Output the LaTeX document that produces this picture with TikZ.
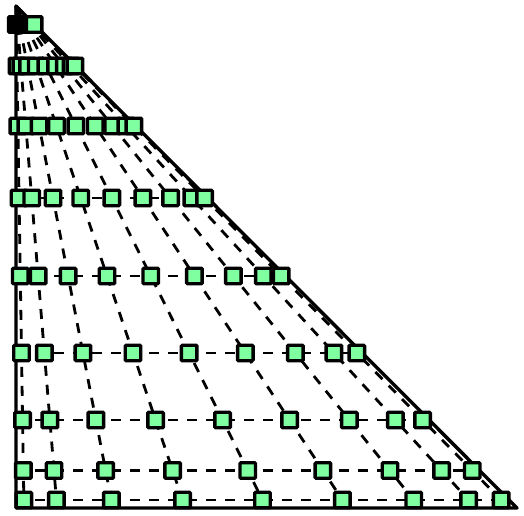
\documentclass[tikz,border=0pt]{standalone}
\definecolor{ptfill}{RGB}{128,255,160}
\begin{document}
\begin{tikzpicture}[x=1pt,y=-1pt,
  edge/.style={line width=3.4pt,line join=round},
  ray/.style={line width=2.8pt,dash pattern=on 10pt off 9pt},
  ptbox/.style={draw,line width=3.4pt,fill=ptfill,minimum size=15.5pt,inner sep=0pt,rectangle,rounded corners=1pt}]
\useasboundingbox (0,0) rectangle (524,515);
\coordinate (A) at (16,6);
\coordinate (B) at (16,508);
\coordinate (C) at (517,508);
\draw[edge] (A) -- (B) -- (C) -- cycle;
\foreach \g [count=\i] in {0.0159199,0.0819845,0.1933143,0.3378733,0.5,0.6621267,0.8066857,0.9180155,0.9840801}{
  \coordinate (b\i) at ({16+501*\g},508);
  \draw[ray] (A) -- (b\i);
}
\foreach \yy [count=\j] in {24.5,66,126,198,276,353,420,470.5,500}{
  \coordinate (l\j) at (16,\yy);
  \coordinate (r\j) at ({16+0.998008*(\yy-6)},\yy);
  \draw[ray] (l\j) -- (r\j);
}
\foreach \yy [count=\j] in {24.5,66,126,198,276,353,420,470.5,500}{
  \foreach \g [count=\i] in {0.0159199,0.0819845,0.1933143,0.3378733,0.5,0.6621267,0.8066857,0.9180155,0.9840801}{
    \node[ptbox] (p\j-\i) at ({16+\g*0.998008*(\yy-6)},\yy) {};
  }
}
\end{tikzpicture}
\end{document}
